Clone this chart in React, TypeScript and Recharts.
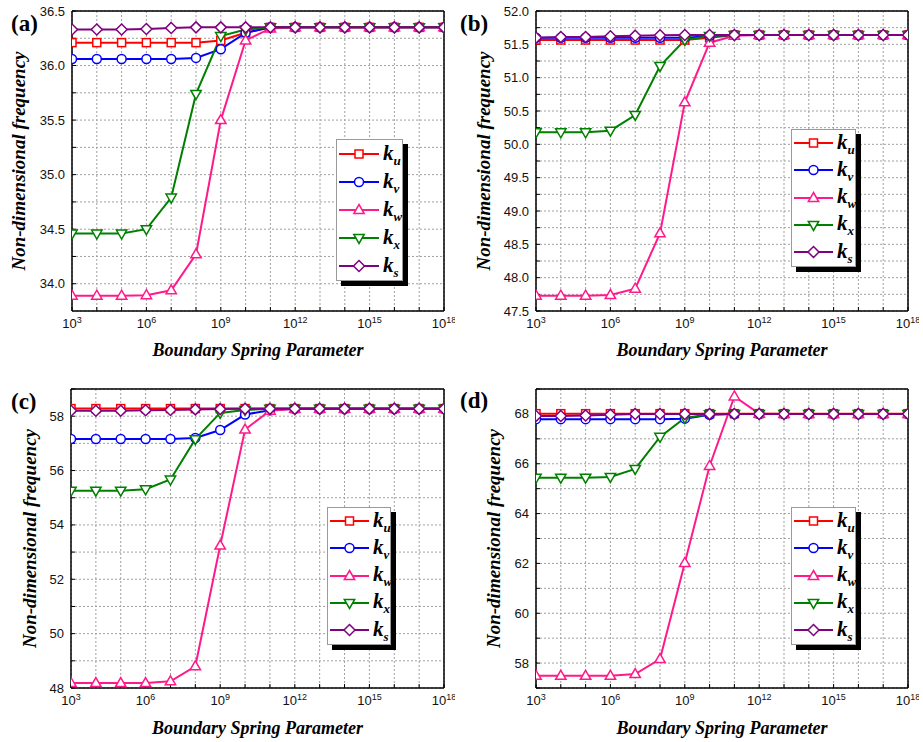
import React from 'react';
import { LineChart, Line, XAxis, YAxis, CartesianGrid, Legend } from 'recharts';

// ---------- shared data ----------
const xValues = [1e3, 1e4, 1e5, 1e6, 1e7, 1e8, 1e9, 1e10, 1e11, 1e12, 1e13, 1e14, 1e15, 1e16, 1e17, 1e18];
const xLabelExponents = [3, 6, 9, 12, 15, 18];

const seriesNames = ['ku', 'kv', 'kw', 'kx', 'ks'];
const seriesSubs = ['u', 'v', 'w', 'x', 's'];
const seriesColors = ['#ff0000', '#0000ff', '#ff1a8c', '#008000', '#800080'];
const seriesShapes = ['square', 'circle', 'up', 'down', 'diamond'];

// ---------- panel (a) ----------
const aKu = [36.21, 36.21, 36.21, 36.21, 36.21, 36.21, 36.23, 36.30, 36.35, 36.35, 36.35, 36.35, 36.35, 36.35, 36.35, 36.35];
const aKv = [36.06, 36.06, 36.06, 36.06, 36.06, 36.07, 36.15, 36.30, 36.35, 36.35, 36.35, 36.35, 36.35, 36.35, 36.35, 36.35];
const aKw = [33.89, 33.89, 33.89, 33.895, 33.94, 34.27, 35.50, 36.23, 36.34, 36.35, 36.35, 36.35, 36.35, 36.35, 36.35, 36.35];
const aKx = [34.46, 34.46, 34.46, 34.50, 34.79, 35.74, 36.27, 36.33, 36.35, 36.35, 36.35, 36.35, 36.35, 36.35, 36.35, 36.35];
const aKs = [36.33, 36.33, 36.33, 36.335, 36.345, 36.35, 36.35, 36.35, 36.35, 36.35, 36.35, 36.35, 36.35, 36.35, 36.35, 36.35];
const aYTicks = [34, 34.25, 34.5, 34.75, 35, 35.25, 35.5, 35.75, 36, 36.25, 36.5];
const aYLabels = [34, 34.5, 35, 35.5, 36, 36.5];

// ---------- panel (b) ----------
const bKu = [51.565, 51.565, 51.565, 51.565, 51.565, 51.565, 51.565, 51.60, 51.64, 51.64, 51.64, 51.64, 51.64, 51.64, 51.64, 51.64];
const bKv = [51.60, 51.60, 51.60, 51.60, 51.60, 51.60, 51.60, 51.62, 51.64, 51.64, 51.64, 51.64, 51.64, 51.64, 51.64, 51.64];
const bKw = [47.73, 47.73, 47.73, 47.74, 47.835, 48.665, 50.63, 51.525, 51.63, 51.64, 51.64, 51.64, 51.64, 51.64, 51.64, 51.64];
const bKx = [50.18, 50.18, 50.18, 50.205, 50.44, 51.175, 51.565, 51.625, 51.64, 51.64, 51.64, 51.64, 51.64, 51.64, 51.64, 51.64];
const bKs = [51.60, 51.61, 51.61, 51.62, 51.63, 51.635, 51.64, 51.64, 51.64, 51.64, 51.64, 51.64, 51.64, 51.64, 51.64, 51.64];
const bYTicks = [47.5, 47.75, 48, 48.25, 48.5, 48.75, 49, 49.25, 49.5, 49.75, 50, 50.25, 50.5, 50.75, 51, 51.25, 51.5, 51.75, 52];
const bYLabels = [47.5, 48, 48.5, 49, 49.5, 50, 50.5, 51, 51.5, 52];

// ---------- panel (c) ----------
const cKu = [58.28, 58.28, 58.28, 58.28, 58.28, 58.28, 58.28, 58.28, 58.28, 58.28, 58.28, 58.28, 58.28, 58.28, 58.28, 58.28];
const cKv = [57.16, 57.16, 57.16, 57.16, 57.16, 57.20, 57.49, 58.06, 58.22, 58.27, 58.27, 58.27, 58.27, 58.27, 58.27, 58.27];
const cKw = [48.18, 48.18, 48.18, 48.18, 48.245, 48.80, 53.24, 57.51, 58.20, 58.27, 58.27, 58.27, 58.27, 58.27, 58.27, 58.27];
const cKx = [55.26, 55.26, 55.26, 55.31, 55.67, 57.155, 58.12, 58.23, 58.27, 58.27, 58.27, 58.27, 58.27, 58.27, 58.27, 58.27];
const cKs = [58.20, 58.20, 58.20, 58.22, 58.23, 58.25, 58.26, 58.27, 58.27, 58.27, 58.27, 58.27, 58.27, 58.27, 58.27, 58.27];
const cYTicks = [48, 49, 50, 51, 52, 53, 54, 55, 56, 57, 58, 59];
const cYLabels = [48, 50, 52, 54, 56, 58];

// ---------- panel (d) ----------
const dKu = [68.01, 68.01, 68.01, 68.01, 68.01, 68.01, 68.01, 68.01, 68.01, 68.01, 68.01, 68.01, 68.01, 68.01, 68.01, 68.01];
const dKv = [67.79, 67.79, 67.79, 67.79, 67.79, 67.79, 67.81, 67.97, 68.0, 68.0, 68.0, 68.0, 68.0, 68.0, 68.0, 68.0];
const dKw = [57.49, 57.49, 57.49, 57.49, 57.56, 58.16, 62.02, 65.91, 68.7, 68.01, 68.0, 68.0, 68.0, 68.0, 68.0, 68.0];
const dKx = [65.44, 65.44, 65.44, 65.47, 65.79, 67.08, 67.84, 67.99, 68.0, 68.0, 68.0, 68.0, 68.0, 68.0, 68.0, 68.0];
const dKs = [67.92, 67.92, 67.94, 67.97, 68.0, 68.0, 68.0, 68.0, 68.0, 68.0, 68.0, 68.0, 68.0, 68.0, 68.0, 68.0];
const dYTicks = [57, 58, 59, 60, 61, 62, 63, 64, 65, 66, 67, 68, 69];
const dYLabels = [58, 60, 62, 64, 66, 68];

const buildRows = (cols: number[][]) =>
  xValues.map((x, i) => {
    const row: any = { x };
    seriesNames.forEach((n, j) => (row[n] = cols[j][i]));
    return row;
  });

const SANS = '"Liberation Sans", Arial, sans-serif';
const SERIF = '"Liberation Serif", "Times New Roman", serif';

function markerShape(shape: string, cx: number, cy: number, color: string) {
  const sw = 1.5;
  switch (shape) {
    case 'square':
      return <rect x={cx - 4} y={cy - 4} width={8} height={8} fill="#fff" stroke={color} strokeWidth={sw} />;
    case 'circle':
      return <circle cx={cx} cy={cy} r={4.5} fill="#fff" stroke={color} strokeWidth={sw} />;
    case 'up':
      return <polygon points={`${cx},${cy - 5.5} ${cx + 5.2},${cy + 3.5} ${cx - 5.2},${cy + 3.5}`} fill="#fff" stroke={color} strokeWidth={sw} />;
    case 'down':
      return <polygon points={`${cx},${cy + 5.5} ${cx + 5.2},${cy - 3.5} ${cx - 5.2},${cy - 3.5}`} fill="#fff" stroke={color} strokeWidth={sw} />;
    default:
      return <polygon points={`${cx},${cy - 5.5} ${cx + 5.5},${cy} ${cx},${cy + 5.5} ${cx - 5.5},${cy}`} fill="#fff" stroke={color} strokeWidth={sw} />;
  }
}

const XTick = (props: any) => {
  const { x, y, payload } = props;
  const e = Math.round(Math.log10(payload.value));
  if (!xLabelExponents.includes(e)) return <g />;
  return (
    <text x={x} y={y + 13} textAnchor="middle" fontFamily={SANS} fontSize={13} fill="#111">
      10<tspan dy={-5} fontSize={9}>{e}</tspan>
    </text>
  );
};

const makeYTick = (labels: number[], decimals: number) => (props: any) => {
  const { x, y, payload } = props;
  const v = payload.value;
  if (!labels.some((l) => Math.abs(l - v) < 1e-9)) return <g />;
  return (
    <text x={x} y={y} dy={4.5} textAnchor="end" fontFamily={SANS} fontSize={13} fill="#111">
      {v.toFixed(decimals)}
    </text>
  );
};

type PanelCfg = {
  letter: string;
  cols: number[][];
  yDomain: [number, number];
  yTicks: number[];
  yLabels: number[];
  decimals: number;
  plot: { x: number; y: number; w: number; h: number };
  legend: { x: number; y: number; w: number; h: number; first: number; gap: number; lineW: number };
  yLabelX: number;
  xLabelY: number;
  letterX: number;
  letterY: number;
};

const panels: PanelCfg[] = [
  {
    letter: '(a)', cols: [aKu, aKv, aKw, aKx, aKs], yDomain: [33.75, 36.5], yTicks: aYTicks, yLabels: aYLabels, decimals: 1,
    plot: { x: 72, y: 11, w: 372, h: 300 },
    legend: { x: 336, y: 139, w: 67, h: 142, first: 14, gap: 28, lineW: 40 },
    yLabelX: 25, xLabelY: 356, letterX: 11, letterY: 31,
  },
  {
    letter: '(b)', cols: [bKu, bKv, bKw, bKx, bKs], yDomain: [47.5, 52], yTicks: bYTicks, yLabels: bYLabels, decimals: 1,
    plot: { x: 536, y: 11, w: 372, h: 300 },
    legend: { x: 791, y: 129, w: 65, h: 138, first: 13, gap: 27.3, lineW: 39 },
    yLabelX: 490, xLabelY: 356, letterX: 460, letterY: 31,
  },
  {
    letter: '(c)', cols: [cKu, cKv, cKw, cKx, cKs], yDomain: [48, 59], yTicks: cYTicks, yLabels: cYLabels, decimals: 0,
    plot: { x: 71, y: 389, w: 373, h: 299 },
    legend: { x: 327, y: 507, w: 64, h: 138, first: 13, gap: 27.3, lineW: 39 },
    yLabelX: 36, xLabelY: 734, letterX: 11, letterY: 409,
  },
  {
    letter: '(d)', cols: [dKu, dKv, dKw, dKx, dKs], yDomain: [57, 69], yTicks: dYTicks, yLabels: dYLabels, decimals: 0,
    plot: { x: 536, y: 389, w: 372, h: 299 },
    legend: { x: 791, y: 507, w: 65, h: 138, first: 13, gap: 27.3, lineW: 39 },
    yLabelX: 500, xLabelY: 734, letterX: 460, letterY: 408,
  },
];

function Panel({ cfg }: { cfg: PanelCfg }) {
  const { plot, legend } = cfg;
  const left = plot.x - 60;
  const top = plot.y - 10;
  const width = plot.w + 71;
  const height = plot.h + 50;
  const data = buildRows(cfg.cols);
  const YTick = makeYTick(cfg.yLabels, cfg.decimals);

  const renderLegend = () => (
    <div
      style={{
        width: legend.w, height: legend.h, background: '#fff', border: '1px solid #9a9a9a',
        boxShadow: '5px 5px 0 #000', boxSizing: 'border-box', position: 'relative',
      }}
    >
      {seriesNames.map((n, i) => (
        <div key={n} style={{ position: 'absolute', left: 1, top: legend.first + i * legend.gap - 10, height: 20, display: 'flex', alignItems: 'center' }}>
          <svg width={legend.lineW + 2} height={20} style={{ display: 'block' }}>
            <line x1={1} y1={10} x2={legend.lineW + 1} y2={10} stroke={seriesColors[i]} strokeWidth={2} />
            {markerShape(seriesShapes[i], legend.lineW / 2 + 1, 10, seriesColors[i])}
          </svg>
          <span style={{ fontFamily: SERIF, fontWeight: 'bold', fontStyle: 'italic', fontSize: 21, marginLeft: 3, lineHeight: '20px', color: '#000' }}>
            k<span style={{ fontSize: 13, position: 'relative', top: 5 }}>{seriesSubs[i]}</span>
          </span>
        </div>
      ))}
    </div>
  );

  return (
    <div style={{ position: 'absolute', left, top, width, height }}>
      <LineChart width={width} height={height} data={data} margin={{ top: 9, right: 10, bottom: 10, left: 10 }}>
        <CartesianGrid stroke="#a0a0a0" strokeDasharray="2 2" strokeWidth={1} />
        <XAxis
          dataKey="x" type="number" scale="log" domain={[1e3, 1e18]} ticks={xValues} interval={0}
          allowDataOverflow height={30} tick={<XTick />} tickSize={-4} tickMargin={8}
          axisLine={{ stroke: '#000', strokeWidth: 1.5 }} tickLine={{ stroke: '#000', strokeWidth: 1 }}
        />
        <XAxis
          xAxisId="top" orientation="top" dataKey="x" type="number" scale="log" domain={[1e3, 1e18]} ticks={xValues}
          interval={0} allowDataOverflow height={1} tick={false} tickSize={-4}
          axisLine={{ stroke: '#000', strokeWidth: 1.5 }} tickLine={{ stroke: '#000', strokeWidth: 1 }}
        />
        <YAxis
          type="number" domain={cfg.yDomain} ticks={cfg.yTicks} interval={0} allowDataOverflow width={50}
          tick={<YTick />} tickSize={-4} tickMargin={11}
          axisLine={{ stroke: '#000', strokeWidth: 1.5 }} tickLine={{ stroke: '#000', strokeWidth: 1 }}
        />
        <YAxis
          yAxisId="r" orientation="right" type="number" domain={cfg.yDomain} ticks={cfg.yTicks} interval={0}
          allowDataOverflow width={1} tick={false} tickSize={-4}
          axisLine={{ stroke: '#000', strokeWidth: 1.5 }} tickLine={{ stroke: '#000', strokeWidth: 1 }}
        />
        {seriesNames.map((n, i) => (
          <Line
            key={n}
            dataKey={n}
            type="linear"
            stroke={seriesColors[i]}
            strokeWidth={2}
            isAnimationActive={false}
            dot={(p: any) => (
              <g key={`${n}-${p.index}`}>{markerShape(seriesShapes[i], p.cx, p.cy, seriesColors[i])}</g>
            )}
            activeDot={false}
          />
        ))}
        <Legend
          layout="vertical" align="center" verticalAlign="middle" content={renderLegend}
          wrapperStyle={{ left: legend.x - left, top: legend.y - top, width: legend.w, height: legend.h }}
        />
      </LineChart>
    </div>
  );
}

export default function App() {
  return (
    <div style={{ position: 'absolute', left: 0, top: 0, width: 923, height: 742, background: '#fff', overflow: 'hidden' }}>
      {panels.map((p) => (
        <Panel key={p.letter} cfg={p} />
      ))}
      <svg width={923} height={742} style={{ position: 'absolute', left: 0, top: 0, pointerEvents: 'none' }}>
        {panels.map((p) => (
          <g key={p.letter}>
            <text x={p.letterX} y={p.letterY} fontFamily={SERIF} fontWeight="bold" fontSize={23} fill="#000">
              {p.letter}
            </text>
            <text
              transform={`translate(${p.yLabelX},${p.plot.y + p.plot.h / 2}) rotate(-90)`}
              textAnchor="middle" fontFamily={SERIF} fontWeight="bold" fontStyle="italic" fontSize={19} fill="#000"
            >
              Non-dimensional frequency
            </text>
            <text
              x={p.plot.x + p.plot.w / 2} y={p.xLabelY} textAnchor="middle"
              fontFamily={SERIF} fontWeight="bold" fontStyle="italic" fontSize={18} fill="#000"
            >
              Boundary Spring Parameter
            </text>
          </g>
        ))}
      </svg>
    </div>
  );
}
